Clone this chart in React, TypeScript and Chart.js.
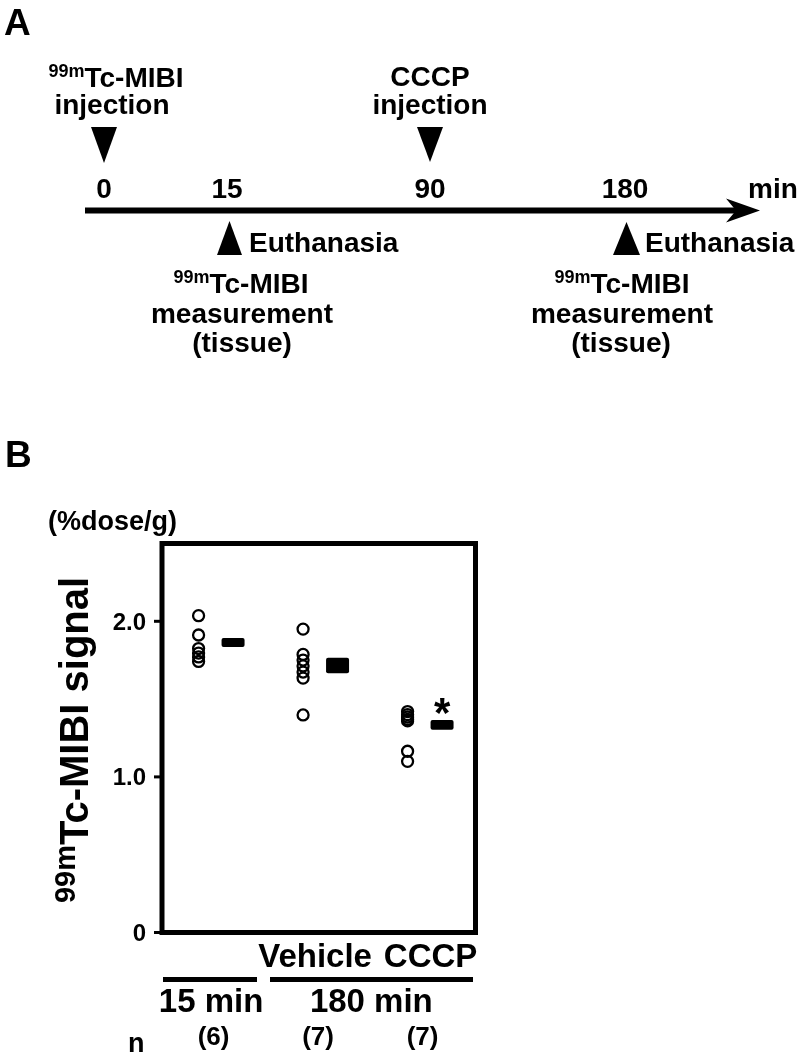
import React, { useEffect, useRef } from "react";
import { Chart, registerables } from "chart.js";

Chart.register(...registerables);

// ---------- data ----------
const groupNames = ["15 min", "Vehicle", "CCCP"];
const values15min = [2.036, 1.912, 1.825, 1.796, 1.771, 1.742];
const valuesVehicle = [1.95, 1.787, 1.751, 1.713, 1.674, 1.635, 1.398];
const valuesCCCP = [1.42, 1.4, 1.385, 1.37, 1.36, 1.165, 1.1];
const groupMeans = [1.864, 1.716, 1.334];
const groupSems = [0.01, 0.03, 0.012];
const groupN = ["(6)", "(7)", "(7)"];
const groupSignificant = [false, false, true];
const yTickValues = [0, 1.0, 2.0];
const yTickLabels = ["0", "1.0", "2.0"];
const timelineTimes = ["0", "15", "90", "180"];

const FONT = "'Liberation Sans', Arial, Helvetica, sans-serif";

function txt(ctx: CanvasRenderingContext2D, s: string, x: number, y: number, size: number, align: CanvasTextAlign = "center") {
  ctx.font = `bold ${size}px ${FONT}`;
  ctx.textAlign = align;
  ctx.textBaseline = "alphabetic";
  ctx.fillText(s, x, y);
}

function supTxt(ctx: CanvasRenderingContext2D, sup: string, main: string, cx: number, y: number, size: number, supSize: number, raise: number) {
  ctx.textBaseline = "alphabetic";
  ctx.textAlign = "left";
  ctx.font = `bold ${supSize}px ${FONT}`;
  const ws = ctx.measureText(sup).width;
  ctx.font = `bold ${size}px ${FONT}`;
  const wm = ctx.measureText(main).width;
  const left = cx - (ws + wm) / 2;
  ctx.font = `bold ${supSize}px ${FONT}`;
  ctx.fillText(sup, left, y - raise);
  ctx.font = `bold ${size}px ${FONT}`;
  ctx.fillText(main, left + ws, y);
}

function tri(ctx: CanvasRenderingContext2D, pts: number[][]) {
  ctx.beginPath();
  ctx.moveTo(pts[0][0], pts[0][1]);
  for (let i = 1; i < pts.length; i++) ctx.lineTo(pts[i][0], pts[i][1]);
  ctx.closePath();
  ctx.fill();
}

const drawPlugin = {
  id: "figureDraw",
  afterDraw(chart: any) {
    const ctx: CanvasRenderingContext2D = chart.ctx;
    const ca = chart.chartArea;
    const xs = chart.scales.x;
    const ys = chart.scales.y;
    ctx.save();
    ctx.fillStyle = "#000";
    ctx.strokeStyle = "#000";

    // ---------- Panel A ----------
    txt(ctx, "A", 4, 35, 37, "left");
    // 0 min: MIBI injection
    supTxt(ctx, "99m", "Tc-MIBI", 116, 87, 28, 18, 10);
    txt(ctx, "injection", 112, 114, 28);
    tri(ctx, [[91, 127], [117, 127], [104, 163]]);
    // CCCP injection
    txt(ctx, "CCCP", 430, 86, 28);
    txt(ctx, "injection", 430, 114, 28);
    tri(ctx, [[417, 127], [443, 127], [430, 162]]);
    // time labels
    const timeX = [104, 227, 430, 625];
    timelineTimes.forEach((t, i) => txt(ctx, t, timeX[i], 198, 28));
    txt(ctx, "min", 748, 198, 28, "left");
    // axis line + arrow
    ctx.fillRect(85, 207.5, 652, 6);
    tri(ctx, [[760, 210.5], [726, 198.5], [736, 210.5], [726, 222.5]]);
    // euthanasia markers
    tri(ctx, [[229.5, 221], [217, 255], [242, 255]]);
    txt(ctx, "Euthanasia", 249, 252, 28, "left");
    supTxt(ctx, "99m", "Tc-MIBI", 241, 293, 28, 18, 10);
    txt(ctx, "measurement", 242, 323, 28);
    txt(ctx, "(tissue)", 242, 352, 28);

    tri(ctx, [[626.5, 222], [613, 255], [640, 255]]);
    txt(ctx, "Euthanasia", 645, 252, 28, "left");
    supTxt(ctx, "99m", "Tc-MIBI", 622, 293, 28, 18, 10);
    txt(ctx, "measurement", 622, 323, 28);
    txt(ctx, "(tissue)", 621, 352, 28);

    // ---------- Panel B ----------
    txt(ctx, "B", 5, 467, 37, "left");
    txt(ctx, "(%dose/g)", 48, 530, 27, "left");

    // y title
    ctx.save();
    ctx.translate(88, 740);
    ctx.rotate(-Math.PI / 2);
    supTxt(ctx, "99m", "Tc-MIBI signal", 0, 0, 40, 29, 13);
    ctx.restore();

    // y ticks
    ctx.lineWidth = 3;
    yTickValues.forEach((v, i) => {
      const py = ys.getPixelForValue(v);
      ctx.beginPath();
      ctx.moveTo(154, py);
      ctx.lineTo(ca.left, py);
      ctx.stroke();
      txt(ctx, yTickLabels[i], 146, py + 8.5, 24, "right");
    });

    // frame
    ctx.lineWidth = 5;
    ctx.strokeRect(ca.left, ca.top, ca.right - ca.left, ca.bottom - ca.top);

    // means +/- sem
    groupMeans.forEach((m, i) => {
      const cx = xs.getPixelForValue(i + 1 + 0.33);
      const top = ys.getPixelForValue(m + groupSems[i]) - 3;
      const bot = ys.getPixelForValue(m - groupSems[i]) + 3;
      ctx.beginPath();
      ctx.roundRect(cx - 11.5, top, 23, bot - top, 2);
      ctx.fill();
      if (groupSignificant[i]) {
        txt(ctx, "*", cx, top + 7, 42);
      }
    });

    // group labels
    const px = (i: number) => xs.getPixelForValue(i + 1);
    txt(ctx, groupNames[1], px(1) + 12, 967, 33);
    txt(ctx, groupNames[2], px(2) + 23, 967, 33);
    ctx.fillRect(163, 977, 94, 5);
    ctx.fillRect(270, 977, 203, 5);
    txt(ctx, groupNames[0], px(0) + 12.5, 1012, 33);
    txt(ctx, "180 min", (px(1) + px(2)) / 2 + 16, 1012, 33);

    // n row
    txt(ctx, "n", 128, 1052, 27, "left");
    groupN.forEach((n, i) => txt(ctx, n, px(i) + 15, 1044.5, 26));

    ctx.restore();
  },
};

export default function App() {
  const ref = useRef<HTMLCanvasElement | null>(null);
  useEffect(() => {
    if (!ref.current) return;
    const mk = (vals: number[], gi: number) => vals.map((v) => ({ x: gi + 1, y: v }));
    const pointStyle = {
      pointStyle: "circle",
      pointRadius: 5.5,
      pointBorderWidth: 2.3,
      pointBorderColor: "#000",
      pointBackgroundColor: "rgba(0,0,0,0)",
      borderColor: "#000",
      backgroundColor: "rgba(0,0,0,0)",
      showLine: false,
    };
    const chart = new Chart(ref.current, {
      type: "scatter",
      data: {
        datasets: [
          { label: groupNames[0], data: mk(values15min, 0), ...pointStyle },
          { label: groupNames[1], data: mk(valuesVehicle, 1), ...pointStyle },
          { label: groupNames[2], data: mk(valuesCCCP, 2), ...pointStyle },
        ] as any,
      },
      options: {
        animation: false,
        responsive: false,
        maintainAspectRatio: false,
        layout: { padding: { left: 162, top: 543.5, right: 324.5, bottom: 123.5 } },
        scales: {
          x: { type: "linear", min: 0.65, max: 3.65, display: false },
          y: { type: "linear", min: 0, max: 2.5, display: false },
        },
        plugins: { legend: { display: false }, tooltip: { enabled: false } },
      },
      plugins: [drawPlugin],
    });
    return () => chart.destroy();
  }, []);
  return (
    <div style={{ position: "absolute", left: 0, top: 0, width: 800, height: 1056, background: "#fff" }}>
      <canvas ref={ref} width={800} height={1056} style={{ display: "block", width: 800, height: 1056 }} />
    </div>
  );
}
